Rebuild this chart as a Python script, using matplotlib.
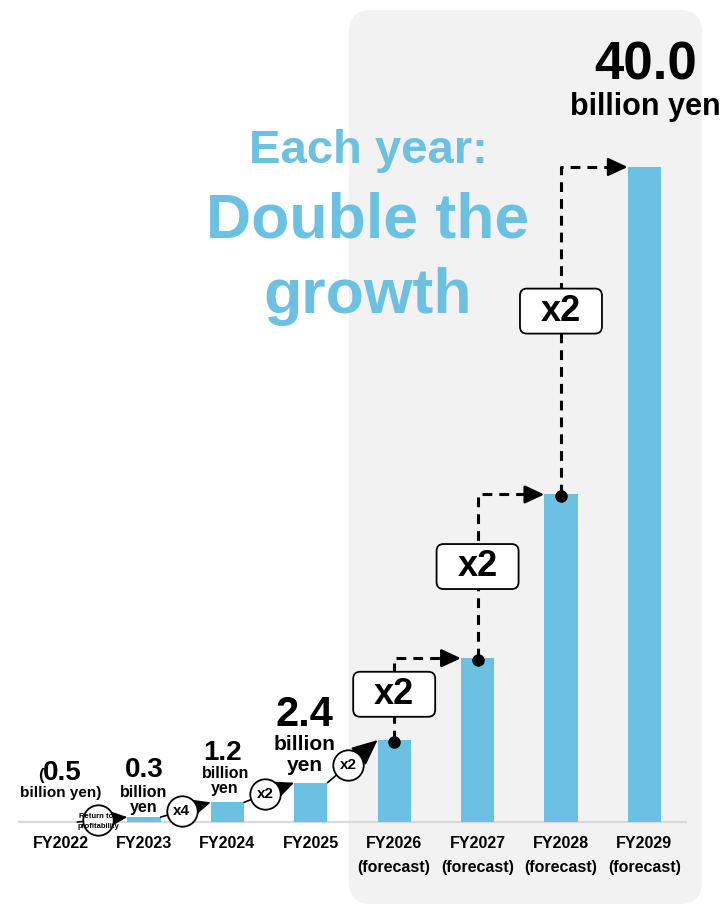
import numpy as np
import matplotlib
matplotlib.use("Agg")
import matplotlib.pyplot as plt
from matplotlib.patches import FancyBboxPatch
from matplotlib.transforms import IdentityTransform

# ---- data -------------------------------------------------------------
years = ["FY2022", "FY2023", "FY2024", "FY2025",
         "FY2026", "FY2027", "FY2028", "FY2029"]
is_forecast = [False, False, False, False, True, True, True, True]
profit = [-0.5, 0.3, 1.2, 2.4, 5.0, 10.0, 20.0, 40.0]      # billion yen
step_small = ["Return to\nprofitability", "x4", "x2", "x2"]  # FY22->23 ... FY25->26
step_big = ["x2", "x2", "x2"]                                # FY26->27 ... FY28->29

BLUE = "#6CC1E3"
PANEL = "#F2F2F2"
AXIS_GREY = "#D9D9D9"
FONT = "Liberation Sans"

plt.rcParams["font.family"] = [FONT, "DejaVu Sans"]
plt.rcParams["font.weight"] = "bold"

W, H, DPI = 728, 909, 100
fig = plt.figure(figsize=(W / DPI, H / DPI), dpi=DPI)
fig.patch.set_facecolor("white")
ax = fig.add_axes([0, 0, 1, 1])
ax.set_xlim(-0.727, 8.003)
ax.set_ylim(-5.313, 50.198)
ax.axis("off")

x = np.arange(len(years))
bar_w = 0.4
heights = np.clip(profit, 0, None)   # losses are shown only as text


def disp(px, py):
    """pixel position measured from the top-left corner -> display coords"""
    return px, H - py


# ---- forecast panel ---------------------------------------------------
panel = FancyBboxPatch(disp(349, 904), 353, 894,
                       boxstyle="round,pad=0,rounding_size=22",
                       transform=IdentityTransform(),
                       fc=PANEL, ec="none", zorder=0)
ax.add_patch(panel)

# ---- bars & baseline --------------------------------------------------
ax.plot([-0.51, 7.51], [0, 0], color=AXIS_GREY, lw=1.6, zorder=2,
        solid_capstyle="butt")
ax.bar(x, heights, width=bar_w, color=BLUE, zorder=3)

# ---- category labels ---------------------------------------------------
for i, (yr, fc) in enumerate(zip(years, is_forecast)):
    ax.annotate(yr, (x[i], 0), xytext=(0, -22), textcoords="offset pixels",
                ha="center", va="center", fontsize=11.5, fontweight="bold")
    if fc:
        ax.annotate("(forecast)", (x[i], 0), xytext=(0, -46),
                    textcoords="offset pixels", ha="center", va="center",
                    fontsize=11.5, fontweight="bold")


# ---- value labels ------------------------------------------------------
def label(i, text, dx, dy, size):
    ax.annotate(text, (x[i], heights[i]), xytext=(dx, dy),
                textcoords="offset pixels", ha="center", va="baseline",
                fontsize=size, fontweight="bold", zorder=6)


# FY2022 (loss shown in parentheses)
label(0, "(", -20, 42, 12)
label(0, f"{abs(profit[0]):.1f}", 2, 42, 20)
label(0, "billion yen)", 0, 25, 11)
# FY2023
label(1, f"{profit[1]:.1f}", 0, 40, 20)
label(1, "billion", 0, 20, 11.5)
label(1, "yen", 0, 5, 11.5)
# FY2024
label(2, f"{profit[2]:.1f}", -5, 42, 20)
label(2, "billion", -2, 24, 11.5)
label(2, "yen", -3, 9, 11.5)
# FY2025
label(3, f"{profit[3]:.1f}", -6, 57, 30)
label(3, "billion", -6, 33, 15)
label(3, "yen", -6, 12, 15)
# FY2029
label(7, f"{profit[7]:.1f}", 1, 87, 38)
label(7, "billion yen", 1, 52, 22)

# ---- headline ------------------------------------------------------------
for txt, py, size in [("Each year:", 163, 34),
                      ("Double the", 237, 45),
                      ("growth", 313, 45)]:
    ax.text(*disp(368, py), txt, transform=IdentityTransform(),
            ha="center", va="baseline", fontsize=size, fontweight="bold",
            color=BLUE, zorder=6)

# ---- small circled growth arrows (actuals) -----------------------------
for k, lab in enumerate(step_small):
    start = (x[k] + bar_w / 2, heights[k])
    end = (x[k + 1] - bar_w / 2, heights[k + 1])
    ax.annotate("", xy=end, xytext=start,
                arrowprops=dict(arrowstyle="-|>,head_length=0.62,head_width=0.28",
                                mutation_scale=26, lw=1.2, color="black",
                                shrinkA=0, shrinkB=0),
                zorder=4)
    t = 0.42
    cx = start[0] + t * (end[0] - start[0])
    cy = start[1] + t * (end[1] - start[1])
    ax.scatter([cx], [cy], s=480, marker="o", facecolor="white",
               edgecolor="black", linewidths=1.3, zorder=5)
    if "\n" in lab:
        l1, l2 = lab.split("\n")
        ax.annotate(l1, (cx, cy), xytext=(-2, 3), textcoords="offset pixels",
                    ha="center", va="center", fontsize=5.5,
                    fontweight="bold", zorder=6)
        ax.annotate(l2, (cx, cy), xytext=(0, -7), textcoords="offset pixels",
                    ha="center", va="center", fontsize=5.5,
                    fontweight="bold", zorder=6)
    else:
        ax.text(cx, cy, lab, ha="center", va="center", fontsize=11,
                fontweight="bold", zorder=6)

# ---- dashed doubling connectors (forecast) -----------------------------
for j, lab in enumerate(step_big):
    k = 4 + j
    src_y = heights[k]
    tgt_y = heights[k + 1]
    tip_x = x[k + 1] - bar_w / 2
    ax.plot([x[k], x[k], tip_x - 0.12], [src_y, tgt_y, tgt_y],
            color="black", lw=2.2, ls=(0, (3.2, 2.3)), zorder=4,
            dash_capstyle="butt")
    ax.annotate("", xy=(tip_x, tgt_y), xytext=(tip_x - 0.2, tgt_y),
                arrowprops=dict(arrowstyle="-|>,head_length=0.6,head_width=0.28",
                                mutation_scale=20, lw=1.8, color="black",
                                shrinkA=0, shrinkB=0),
                zorder=4)
    ax.plot([x[k]], [src_y - 0.12], marker="o", ms=8, color="black",
            zorder=5)
    # label box on the vertical leg
    by = src_y + 0.56 * (tgt_y - src_y)
    cxd, cyd = ax.transData.transform((x[k], by))
    bw, bh = 82, 45
    box = FancyBboxPatch((cxd - bw / 2, cyd - bh / 2), bw, bh,
                         boxstyle="round,pad=0,rounding_size=7",
                         transform=IdentityTransform(),
                         fc="white", ec="black", lw=1.3, zorder=5)
    ax.add_patch(box)
    ax.text(x[k], by, lab, ha="center", va="center", fontsize=26,
            fontweight="bold", zorder=6)

fig.savefig("out.png", dpi=DPI)
